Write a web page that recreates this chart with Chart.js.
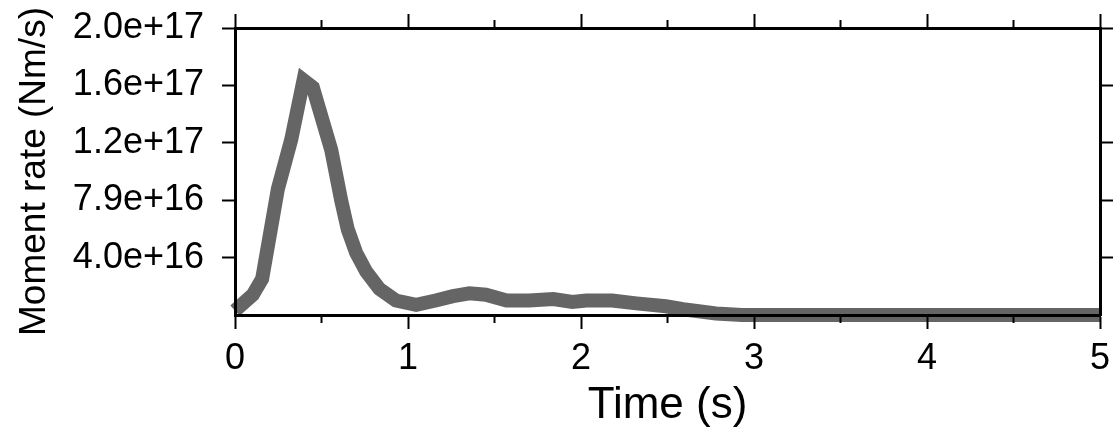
<!DOCTYPE html>
<html>
<head>
<meta charset="utf-8">
<title>Moment rate</title>
<script src="https://cdn.jsdelivr.net/npm/chart.js@4"></script>
<style>
  html, body { margin: 0; padding: 0; background: #fff; }
  canvas { display: block; }
</style>
</head>
<body>
<canvas id="stf" width="1115" height="432"></canvas>
<script>
/* ── Data ── */
const times = [0, 0.103, 0.157, 0.248, 0.325, 0.396, 0.45, 0.556, 0.614, 0.652, 0.70, 0.758,
  0.835, 0.93, 1.047, 1.16, 1.26, 1.355, 1.45, 1.57, 1.70, 1.84, 1.95, 2.03, 2.18, 2.32,
  2.49, 2.59, 2.78, 2.93, 5.0];
const momentRate = [0.03e17, 0.14e17, 0.25e17, 0.87e17, 1.21e17, 1.62e17, 1.57e17, 1.14e17,
  0.79e17, 0.59e17, 0.43e17, 0.30e17, 0.18e17, 0.10e17, 0.07e17, 0.10e17, 0.13e17, 0.15e17,
  0.14e17, 0.10e17, 0.10e17, 0.11e17, 0.09e17, 0.10e17, 0.10e17, 0.08e17, 0.06e17, 0.04e17,
  0.01e17, 0, 0];

const yTickValues = [3.96e16, 7.92e16, 1.188e17, 1.584e17, 1.98e17];
const yTickLabels = ['4.0e+16', '7.9e+16', '1.2e+17', '1.6e+17', '2.0e+17'];
const xMajorTicks = [0, 1, 2, 3, 4, 5];
const xMinorTicks = [0.5, 1.5, 2.5, 3.5, 4.5];

const X_MIN = 0, X_MAX = 5;
const Y_MIN = 0, Y_MAX = 1.98e17;

/* ── Frame geometry (axis box sizes) ── */
const BOX = { left: 235, right: 15, top: 28, bottom: 117 };

Chart.defaults.font.family = '"Liberation Sans", Arial, Helvetica, sans-serif';
Chart.defaults.color = '#000';

const setTicks = list => scale => { scale.ticks = list.map(v => ({ value: v })); };

// force the box size and drop the label overhang padding so the frame sits where it should
const fitTo = (prop, size) => s => {
  s[prop] = size;
  s.paddingTop = s.paddingBottom = s.paddingLeft = s.paddingRight = 0;
};

const grid = len => ({
  drawOnChartArea: false,
  drawTicks: true,
  tickLength: len,
  tickWidth: 2,
  tickColor: '#000',
  z: 1,
});
const frame = { display: true, color: '#000', width: 3, z: 1 };
const noBorder = { display: false };

const xAxis = (pos, extra) => ({
  type: 'linear',
  position: pos,
  min: X_MIN,
  max: X_MAX,
  ...extra,
});

new Chart(document.getElementById('stf'), {
  type: 'line',
  data: {
    datasets: [{
      data: times.map((t, i) => ({ x: t, y: momentRate[i] })),
      borderColor: '#656565',
      borderWidth: 14,
      borderCapStyle: 'butt',
      borderJoinStyle: 'miter',
      pointRadius: 0,
      tension: 0,
      fill: false,
      clip: false,
      xAxisID: 'x',
      yAxisID: 'y',
    }],
  },
  options: {
    responsive: false,
    animation: false,
    devicePixelRatio: 1,
    layout: { padding: 0 },
    plugins: {
      legend: { display: false },
      tooltip: { enabled: false },
    },
    scales: {
      /* bottom: labelled major ticks */
      x: xAxis('bottom', {
        weight: 1,
        afterBuildTicks: setTicks(xMajorTicks),
        afterFit: fitTo('height', BOX.bottom),
        grid: grid(14),
        border: frame,
        ticks: { font: { size: 36 }, padding: 8, maxRotation: 0, callback: v => String(v) },
        title: { display: true, text: 'Time (s)', font: { size: 44 }, padding: { top: 0, bottom: 0 } },
      }),
      /* bottom: minor ticks */
      xMinor: xAxis('bottom', {
        weight: 0,
        afterBuildTicks: setTicks(xMinorTicks),
        afterFit: fitTo('height', 0),
        grid: grid(8),
        border: noBorder,
        ticks: { display: false },
      }),
      /* top frame: major ticks */
      xTop: xAxis('top', {
        weight: 1,
        afterBuildTicks: setTicks(xMajorTicks),
        afterFit: fitTo('height', BOX.top),
        grid: grid(14),
        border: frame,
        ticks: { display: false },
      }),
      /* top frame: minor ticks */
      xTopMinor: xAxis('top', {
        weight: 0,
        afterBuildTicks: setTicks(xMinorTicks),
        afterFit: fitTo('height', 0),
        grid: grid(8),
        border: noBorder,
        ticks: { display: false },
      }),
      y: {
        type: 'linear',
        position: 'left',
        min: Y_MIN,
        max: Y_MAX,
        afterBuildTicks: setTicks(yTickValues),
        afterFit: fitTo('width', BOX.left),
        grid: grid(13),
        border: frame,
        ticks: {
          font: { size: 36 },
          padding: 18,
          callback: (v, i) => yTickLabels[i],
        },
        title: {
          display: true,
          text: 'Moment rate (Nm/s)',
          font: { size: 37 },
          padding: { top: 13, bottom: 0 },
        },
      },
      yRight: {
        type: 'linear',
        position: 'right',
        min: Y_MIN,
        max: Y_MAX,
        afterBuildTicks: setTicks(yTickValues),
        afterFit: fitTo('width', BOX.right),
        grid: grid(13),
        border: frame,
        ticks: { display: false },
      },
    },
  },
});
</script>
</body>
</html>
